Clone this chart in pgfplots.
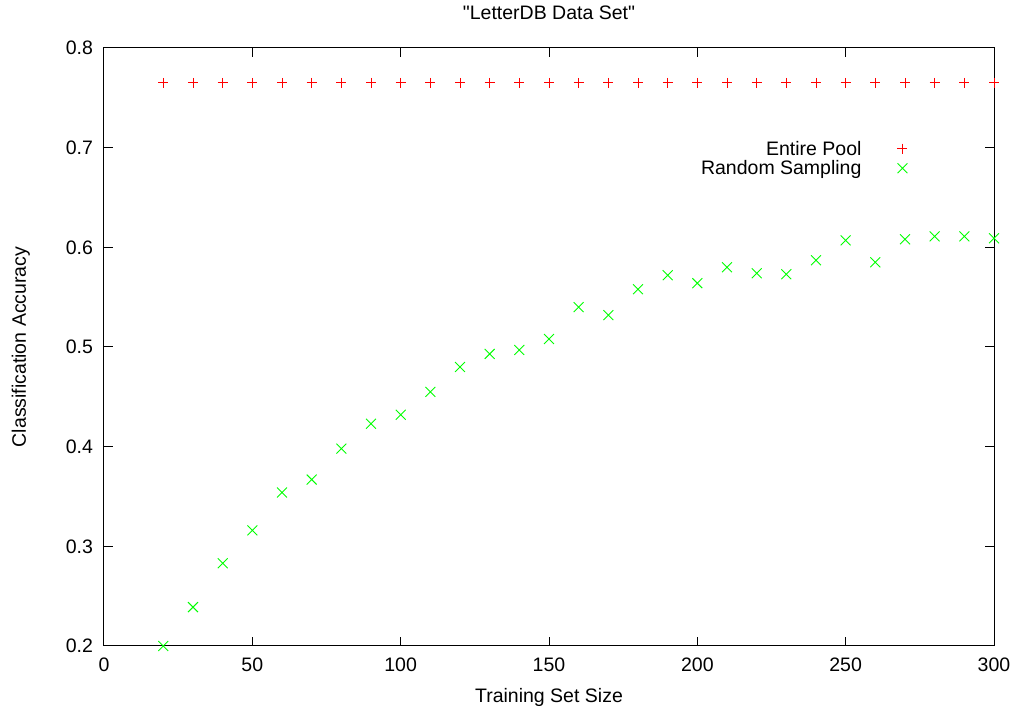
\documentclass[border=0pt]{standalone}
\usepackage{pgfplots}
\pgfplotsset{compat=1.18}
\usepackage{fontspec}
\setmainfont{Liberation Sans}
\newcommand{\qd}{\XeTeXglyph\XeTeXcharglyph"22\relax}
\begin{document}
\begin{tikzpicture}[font=\fontsize{19.5}{23}\selectfont]
\begin{axis}[
  name=ax,
  scale only axis,
  width=890pt, height=598pt,
  xmin=0, xmax=300, ymin=0.2, ymax=0.8,
  xtick={0,50,100,150,200,250,300},
  ytick={0.2,0.3,0.4,0.5,0.6,0.7,0.8},
  yticklabel style={/pgf/number format/fixed,/pgf/number format/precision=1,xshift=-7.5pt},
  xticklabel style={yshift=-8.5pt},
  /pgf/number format/assume math mode=true,
  tick align=inside,
  major tick length=9pt,
  tick style={line width=1pt,black},
  axis line style={line width=1pt},
  title={\qd LetterDB Data Set\qd},
  title style={at={(axis description cs:0.5,1)},anchor=base,yshift=22pt,inner sep=0pt},
  xlabel={Training Set Size},
  ylabel={Classification Accuracy},
  xlabel style={at={(axis description cs:0.5,-0.0953)},anchor=base,inner sep=0pt},
  ylabel style={at={(axis description cs:-0.0933,0.5)},anchor=center,inner sep=0pt},
  legend style={draw=none,fill=none,inner sep=0pt,at={(0.903,0.852)},anchor=north east,row sep=-4pt,
    nodes={inner sep=0pt,text height=14pt,text depth=5pt}},
  legend cell align=right,
  legend plot pos=right,
  legend image code/.code={\path[draw=none,fill=none] (0pt,-5pt) rectangle (46pt,14pt); \draw[#1] plot coordinates {(41pt,2pt)};},
  clip=false,
]
\addplot[only marks, mark=+, mark size=5pt, color=red, mark options={line width=0.9pt}] coordinates {
(20,0.765)(30,0.765)(40,0.765)(50,0.765)(60,0.765)(70,0.765)(80,0.765)(90,0.765)(100,0.765)(110,0.765)
(120,0.765)(130,0.765)(140,0.765)(150,0.765)(160,0.765)(170,0.765)(180,0.765)(190,0.765)(200,0.765)(210,0.765)
(220,0.765)(230,0.765)(240,0.765)(250,0.765)(260,0.765)(270,0.765)(280,0.765)(290,0.765)(300,0.765)
};
\addlegendentry{Entire Pool}
\addplot[only marks, mark=x, mark size=7pt, color=green, mark options={line width=0.9pt}] coordinates {
(20,0.200)(30,0.239)(40,0.283)(50,0.316)(60,0.354)(70,0.367)(80,0.398)(90,0.423)(100,0.432)(110,0.455)
(120,0.480)(130,0.493)(140,0.497)(150,0.508)(160,0.540)(170,0.532)(180,0.558)(190,0.572)(200,0.564)(210,0.580)
(220,0.574)(230,0.573)(240,0.587)(250,0.607)(260,0.585)(270,0.608)(280,0.611)(290,0.611)(300,0.609)
};
\addlegendentry{Random Sampling}
\end{axis}
\pgfresetboundingbox
\path ([xshift=-104pt,yshift=-66pt]ax.south west) rectangle ([xshift=26pt,yshift=48pt]ax.north east);
\end{tikzpicture}
\end{document}
